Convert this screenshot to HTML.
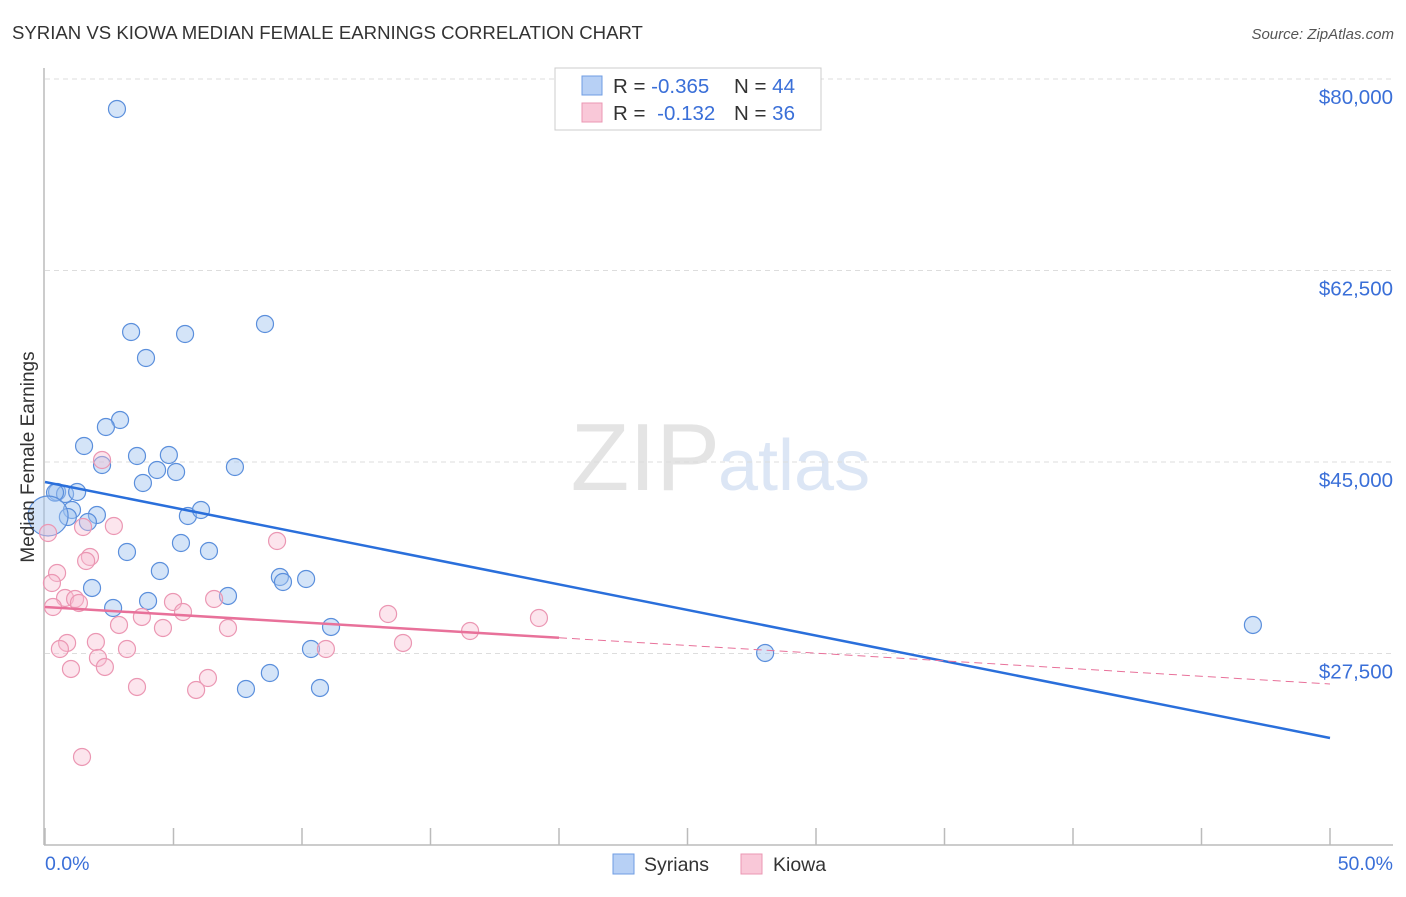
<!DOCTYPE html>
<html><head><meta charset="utf-8"><style>
body{margin:0;background:#fff;}
svg text{font-family:"Liberation Sans",sans-serif;}
</style></head><body>
<svg id="chart" width="1406" height="892" xmlns="http://www.w3.org/2000/svg">
<text x="12" y="39" font-size="18.6" fill="#333">SYRIAN VS KIOWA MEDIAN FEMALE EARNINGS CORRELATION CHART</text>
<text x="1394" y="39" font-size="15" fill="#555" text-anchor="end" font-style="italic">Source: ZipAtlas.com</text>
<text x="720" y="490" font-size="96" fill="#e4e4e4" text-anchor="end" font-family="Liberation Serif">ZIP</text>
<text x="718" y="490" font-size="72" fill="#dce6f5">atlas</text>
<g id="grid"></g>
<g id="axes"></g>
<g id="pts"></g>
<g id="lines"></g>
<text transform="translate(34,457) rotate(-90)" font-size="19" fill="#333" text-anchor="middle">Median Female Earnings</text>
<text x="45" y="870" font-size="19.5" fill="#3a6fd8">0.0%</text>
<text x="1393" y="870" font-size="19.5" fill="#3a6fd8" text-anchor="end">50.0%</text>
<g>
<rect x="555" y="68" width="266" height="62" fill="#fff" stroke="#ccc"/>
<rect x="582" y="76" width="20" height="19" fill="#b7d0f5" stroke="#6f9de3"/>
<rect x="582" y="103" width="20" height="19" fill="#f9c8d8" stroke="#eb97b3"/>
<text x="613" y="93" font-size="20.5" fill="#333">R = <tspan fill="#3a6fd8">-0.365</tspan><tspan x="734">N = </tspan><tspan fill="#3a6fd8">44</tspan></text>
<text x="613" y="120" font-size="20.5" fill="#333">R = <tspan fill="#3a6fd8" dx="6">-0.132</tspan><tspan x="734">N = </tspan><tspan fill="#3a6fd8">36</tspan></text>
</g>
<g>
<rect x="613" y="854" width="21" height="20" fill="#b7d0f5" stroke="#6f9de3"/>
<text x="644" y="871" font-size="19.5" fill="#333">Syrians</text>
<rect x="741" y="854" width="21" height="20" fill="#f9c8d8" stroke="#eb97b3"/>
<text x="773" y="871" font-size="19.5" fill="#333">Kiowa</text>
</g>
</svg>
<script>
const yTicks=[80000,62500,45000,27500];
const yTickLabels=["$80,000","$62,500","$45,000","$27,500"];
const xTicks=[0,5,10,15,20,25,30,35,40,45,50];
const syrX=[2.80,3.35,5.45,8.56,3.93,2.92,2.37,1.52,3.58,4.82,2.22,4.36,5.10,7.39,3.81,0.47,0.78,1.25,1.05,0.89,2.02,1.67,5.56,6.07,5.29,3.19,6.38,4.47,1.83,9.14,9.26,10.16,7.12,4.01,2.65,11.13,10.35,8.75,7.82,10.70,28.02,47.0,0.39,0.12];
const syrY=[77259,56881,56698,57612,54505,48839,48200,46464,45550,45641,44727,44270,44088,44545,43082,42260,42077,42260,40615,39976,40158,39519,40067,40615,37600,36777,36869,35041,33488,34493,34036,34310,32757,32300,31660,29924,27913,25720,24258,24350,27548,30107,42200,40067];
const kioX=[2.22,0.12,1.48,2.68,9.03,1.75,1.60,0.47,0.27,0.78,1.17,1.32,0.31,4.98,5.37,6.58,3.77,2.88,4.59,7.12,0.86,1.98,0.58,3.19,2.06,2.33,1.01,3.58,6.34,5.88,1.44,13.35,13.93,16.54,19.22,10.93];
const kioY=[45184,38513,39062,39153,37782,36320,35955,34858,33944,32574,32482,32117,31751,32208,31294,32482,30838,30107,29832,29832,28462,28553,27913,27913,27091,26269,26086,24441,25263,24167,18044,31111,28462,29558,30746,27913];
const syrTrend=[43174,19781];
const kioTrend=[31751,24715];
const NS="http://www.w3.org/2000/svg";
const X=v=>45+v*25.7;
const Y=v=>79+(80000-v)*191.5/17500;
function mk(tag,attrs,parent){const e=document.createElementNS(NS,tag);for(const k in attrs)e.setAttribute(k,attrs[k]);document.getElementById(parent).appendChild(e);return e;}
yTicks.forEach((t,i)=>{
 const g=mk('line',{x1:45,x2:1393,y1:Y(t),y2:Y(t),stroke:'#ddd','stroke-dasharray':'5,4'},'grid');
 
 
 const tx=mk('text',{x:1393,y:Y(t)+25,'font-size':20.5,fill:'#3a6fd8','text-anchor':'end'},'grid');
 tx.textContent=yTickLabels[i];
 
 
});
let a=mk('line',{x1:44,x2:44,y1:68,y2:845,stroke:'#bbb','stroke-width':1.5},'axes');


a=mk('line',{x1:44,x2:1393,y1:845,y2:845,stroke:'#bbb','stroke-width':1.5},'axes');


xTicks.forEach(t=>{
 const l=mk('line',{x1:X(t),x2:X(t),y1:828,y2:845,stroke:'#bbb','stroke-width':1.5},'axes');
 
 
});
syrX.forEach((x,i)=>{
 const r=(i===syrX.length-1)?20:8.5;
 const c=mk('circle',{cx:X(x),cy:Y(syrY[i]),r:r,fill:'rgba(160,195,240,0.45)',stroke:'#5b8fdc','stroke-width':1.2},'pts');
 
 
});
kioX.forEach((x,i)=>{
 const c=mk('circle',{cx:X(x),cy:Y(kioY[i]),r:8.5,fill:'rgba(248,190,210,0.4)',stroke:'#eb97b3','stroke-width':1.2},'pts');
 
 
});
const ky=x=>kioTrend[0]+(kioTrend[1]-kioTrend[0])*x/50;
let l=mk('line',{x1:X(0),y1:Y(syrTrend[0]),x2:X(50),y2:Y(syrTrend[1]),stroke:'#2a6fdb','stroke-width':2.5},'lines');


l=mk('line',{x1:X(0),y1:Y(ky(0)),x2:X(20),y2:Y(ky(20)),stroke:'#e8719a','stroke-width':2.5},'lines');


l=mk('line',{x1:X(20),y1:Y(ky(20)),x2:X(50),y2:Y(ky(50)),stroke:'#e8719a','stroke-width':1,'stroke-dasharray':'8,5'},'lines');


</script>
</body></html>
